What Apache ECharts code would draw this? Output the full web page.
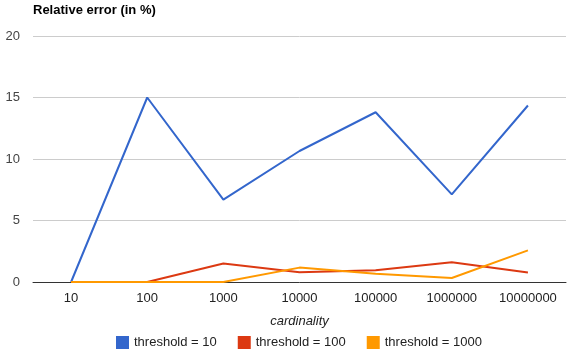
<!DOCTYPE html>
<html><head><meta charset="utf-8">
<script src="https://cdn.jsdelivr.net/npm/echarts@6/dist/echarts.min.js"></script>
<style>html,body{margin:0;padding:0;background:#fff}#c{width:574px;height:363px}</style>
</head><body><div id="c"></div>
<script>
const categories = ['10','100','1000','10000','100000','1000000','10000000'];
const seriesNames = ['threshold = 10','threshold = 100','threshold = 1000'];
const threshold10 = [0, 15.0, 6.7, 10.65, 13.8, 7.12, 14.35];
const threshold100 = [0, 0, 1.5, 0.8, 0.95, 1.6, 0.77];
const threshold1000 = [0, 0, 0, 1.17, 0.68, 0.33, 2.57];
const yTicks = [0, 5, 10, 15, 20];
const colors = ['#3366cc','#dc3912','#ff9900'];
const FONT = 'Liberation Sans, Arial, sans-serif';

const chart = echarts.init(document.getElementById('c'), null, {renderer:'canvas'});
const dataSets = [threshold10, threshold100, threshold1000];
chart.setOption({
  animation: false,
  color: colors,
  title: {
    text: 'Relative error (in %)', left: 28, top: -1,
    textStyle: {fontFamily: FONT, fontSize: 13, fontWeight: 'bold', color: '#000'}
  },
  grid: {left: 33, right: 8, top: 36, bottom: 81, containLabel: false},
  legend: {
    data: seriesNames, left: 111, top: 331,
    icon: 'rect', itemWidth: 13, itemHeight: 13, itemGap: 21,
    textStyle: {fontFamily: FONT, fontSize: 13, color: '#222'}
  },
  xAxis: {
    type: 'category', data: categories, boundaryGap: true,
    name: 'cardinality', nameLocation: 'middle', nameGap: 33,
    nameTextStyle: {fontFamily: FONT, fontSize: 13, fontStyle: 'italic', color: '#222'},
    axisLine: {lineStyle: {color: '#333', width: 1}},
    axisTick: {show: false},
    axisLabel: {fontFamily: FONT, fontSize: 13, color: '#222', margin: 10, interval: 0}
  },
  yAxis: {
    type: 'value', min: yTicks[0], max: yTicks[yTicks.length-1], interval: 5,
    axisLine: {show: false}, axisTick: {show: false},
    axisLabel: {fontFamily: FONT, fontSize: 13, color: '#444', margin: 13},
    splitLine: {lineStyle: {color: '#cccccc', width: 1}}
  },
  series: dataSets.map((d, i) => ({
    name: seriesNames[i], type: 'line', data: d,
    symbol: 'none', lineStyle: {width: 2, color: colors[i]},
    itemStyle: {color: colors[i]}
  }))
});
</script></body></html>
